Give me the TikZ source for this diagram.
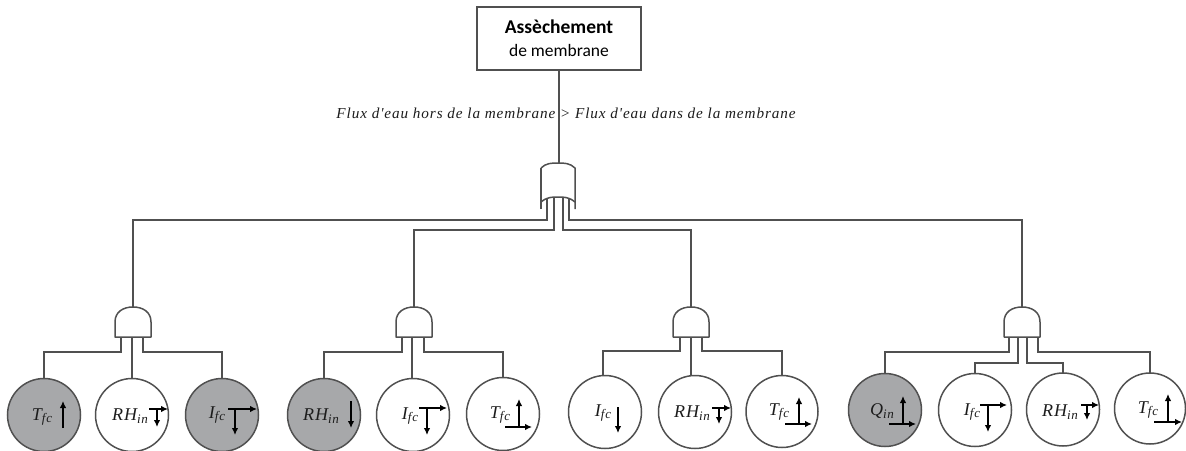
\documentclass[tikz,border=0pt]{standalone}
\usepackage{fontspec}
\setmainfont{Carlito}
\newfontfamily\mathlike[ItalicFont=Liberation Serif Italic,LetterSpace=6]{Liberation Serif}
\usetikzlibrary{arrows.meta,calc}
\definecolor{ink}{HTML}{505050}
\definecolor{shade}{HTML}{A7A8AA}
\definecolor{script}{HTML}{1C1C1C}
\tikzset{
  wire/.style={draw=ink,line width=1.5pt},
  gatebox/.style={rectangle,minimum width=36pt,minimum height=30pt,inner sep=0pt,outer sep=0pt},
  orbox/.style={rectangle,minimum width=34pt,minimum height=46pt,inner sep=0pt,outer sep=0pt},
  event/.style={circle,draw=ink,line width=1.5pt,fill=white,inner sep=0pt,outer sep=0pt,minimum size=73pt},
  shaded/.style={event,fill=shade},
  lab/.style={inner sep=0pt,text=script,font=\fontsize{18}{20}\selectfont},
  arr/.style={draw=black,line width=1.3pt,-{Latex[length=7pt,width=6.5pt]}}
}
\newcommand{\lbl}[2]{\mathlike\textit{#1\raisebox{-2.6pt}{\fontsize{13}{14}\selectfont #2}}}
% arrows placed relative to a circle node: name, dx, dy, length
\newcommand{\upar}[4]{\draw[arr] (#1.center) ++(#2,#3) -- ++(0,-#4);}
\newcommand{\dnar}[4]{\draw[arr] (#1.center) ++(#2,#3) -- ++(0,#4);}
\newcommand{\rtar}[4]{\draw[arr] (#1.center) ++(#2,#3) -- ++(#4,0);}
\newcommand{\andgate}[2]{%
  \node[gatebox] (#1) at (#2,322) {};
  \draw[wire,line join=round] (#1.south west) -- (#1.west) .. controls ($(#1.west)+(0,-10)$) and ($(#1.north)+(-10,0)$) .. (#1.north) .. controls ($(#1.north)+(10,0)$) and ($(#1.east)+(0,-10)$) .. (#1.east) -- (#1.south east) -- cycle;}
\begin{document}
\begin{tikzpicture}[x=1pt,y=-1pt]
\useasboundingbox (0,0) rectangle (1186,450);
% top event
\node[draw=ink,line width=1.5pt,minimum width=164pt,minimum height=63pt,inner sep=0pt,align=center,text=black,font=\fontsize{19.5}{24}\selectfont] (top) at (559,38.5)
  {\textbf{Assèchement}\\[-1pt]{\fontsize{17.5}{22}\selectfont de membrane}};
% OR gate
\node[orbox] (or) at (558,186) {};
\draw[wire,line join=round]
  ($(or.north west)+(0,5)$) .. controls ($(or.north west)+(5,0)$) and ($(or.north)+(-6,0)$) .. (or.north)
  .. controls ($(or.north)+(6,0)$) and ($(or.north east)+(-5,0)$) .. ($(or.north east)+(0,5)$)
  -- (or.south east);
\draw[wire,line join=round] (or.south west) -- ($(or.north west)+(0,5)$);
\coordinate (orL) at ($(or.south west)+(0,-7)$);
\coordinate (orR) at ($(or.south east)+(0,-7)$);
\coordinate (orM) at ($(or.south)+(0,-12)$);
\draw[wire] (orL) .. controls ($(orL)+(6,-5)$) and ($(orM)+(-6,0)$) .. (orM) .. controls ($(orM)+(6,0)$) and ($(orR)+(-6,-5)$) .. (orR);
\coordinate (or1) at (547,199);
\coordinate (or2) at (554,197);
\coordinate (or3) at (563,197);
\coordinate (or4) at (569,199);
\draw[wire] (top.south) -- (top.south |- or.north);
\node[inner sep=0pt,text=script,font=\fontsize{15.2}{18}\selectfont] (flux) at (566.5,113.5) {\mathlike\textit{Flux d'eau hors de la membrane > Flux d'eau dans de la membrane}};
% AND gates
\andgate{g1}{133}
\andgate{g2}{414}
\andgate{g3}{691}
\andgate{g4}{1022}
\draw[wire] (or1) -- ++(0,21) -| (g1.north);
\draw[wire] (or2) -- ++(0,33) -| (g2.north);
\draw[wire] (or3) -- ++(0,33) -| (g3.north);
\draw[wire] (or4) -- ++(0,21) -| (g4.north);
% events
\node[shaded] (a1) at (44,415) {};
\node[event]  (a2) at (132,415) {};
\node[shaded] (a3) at (222,415) {};
\node[shaded] (b1) at (324,415) {};
\node[event]  (b2) at (413,415) {};
\node[event]  (b3) at (503,414) {};
\node[event]  (c1) at (605,412) {};
\node[event]  (c2) at (695,412) {};
\node[event,minimum size=72pt]  (c3) at (782,411.5) {};
\node[shaded] (d1) at (885,410) {};
\node[event]  (d2) at (975,410) {};
\node[event]  (d3) at (1063,409.5) {};
\node[event,minimum size=71pt]  (d4) at (1150,408.5) {};
% gate inputs to events
\coordinate (g1a) at ($(g1.south)+(-12,0)$);
\coordinate (g1b) at ($(g1.south)+(-1,0)$);
\coordinate (g1c) at ($(g1.south)+(10,0)$);
\draw[wire] (g1a) -- ++(0,15) -| (a1.north);
\draw[wire] (g1b) -- (g1b |- a2.north);
\draw[wire] (g1c) -- ++(0,15) -| (a3.north);
\coordinate (g2a) at ($(g2.south)+(-12,0)$);
\coordinate (g2b) at ($(g2.south)+(-2,0)$);
\coordinate (g2c) at ($(g2.south)+(10,0)$);
\draw[wire] (g2a) -- ++(0,15) -| (b1.north);
\draw[wire] (g2b) -- (g2b |- b2.north);
\draw[wire] (g2c) -- ++(0,15) -| (b3.north);
\coordinate (g3a) at ($(g3.south)+(-11,0)$);
\coordinate (g3b) at ($(g3.south)+(0,0)$);
\coordinate (g3c) at ($(g3.south)+(11,0)$);
\draw[wire] (g3a) -- ++(0,14) -| ([xshift=-2pt]c1.north);
\draw[wire] (g3b) -- (g3b |- c2.north);
\draw[wire] (g3c) -- ++(0,14) -| (c3.north);
\coordinate (g4a) at ($(g4.south)+(-13,0)$);
\coordinate (g4b) at ($(g4.south)+(-4,0)$);
\coordinate (g4c) at ($(g4.south)+(5,0)$);
\coordinate (g4d) at ($(g4.south)+(16,0)$);
\draw[wire] (g4a) -- ++(0,15) -| (d1.north);
\draw[wire] (g4b) -- ++(0,26) -| (d2.north);
\draw[wire] (g4c) -- ++(0,26) -| (d3.north);
\draw[wire] (g4d) -- ++(0,15) -| (d4.north);
% labels
\node[lab] (la1) at (42,417) {\lbl{T}{fc}};
\node[lab] (la2) at (130,416) {\lbl{RH}{in}};
\node[lab] (la3) at (217,415) {\lbl{I}{fc}};
\node[lab] (lb1) at (321,416) {\lbl{RH}{in}};
\node[lab] (lb2) at (410,416) {\lbl{I}{fc}};
\node[lab] (lb3) at (500,415) {\lbl{T}{fc}};
\node[lab] (lc1) at (603,413) {\lbl{I}{fc}};
\node[lab] (lc2) at (692,413) {\lbl{RH}{in}};
\node[lab] (lc3) at (779,412) {\lbl{T}{fc}};
\node[lab] (ld1) at (882,411) {\lbl{Q}{in}};
\node[lab] (ld2) at (972,412) {\lbl{I}{fc}};
\node[lab] (ld3) at (1060,412) {\lbl{RH}{in}};
\node[lab] (ld4) at (1148,410) {\lbl{T}{fc}};
% arrows
\upar{a1}{19}{13}{27}
\rtar{a2}{17}{-6}{19}
\dnar{a2}{25}{-6}{18}
\rtar{a3}{6}{-6}{29}
\dnar{a3}{13}{-6}{26}
\dnar{b1}{27}{-14}{27}
\rtar{b2}{6}{-7}{28}
\dnar{b2}{14}{-7}{27}
\upar{b3}{16}{13}{28}
\rtar{b3}{2}{13}{27}
\dnar{c1}{13}{-5}{26}
\rtar{c2}{17}{-4}{19}
\dnar{c2}{24}{-4}{16}
\upar{c3}{17}{12.5}{27}
\rtar{c3}{3}{12.5}{27}
\upar{d1}{18}{14}{28}
\rtar{d1}{4}{14}{27}
\rtar{d2}{5}{-5}{27}
\dnar{d2}{13}{-5}{27}
\rtar{d3}{18}{-4.5}{18}
\dnar{d3}{24}{-4.5}{15}
\upar{d4}{18}{13.5}{28}
\rtar{d4}{4}{13.5}{28}
\end{tikzpicture}
\end{document}
